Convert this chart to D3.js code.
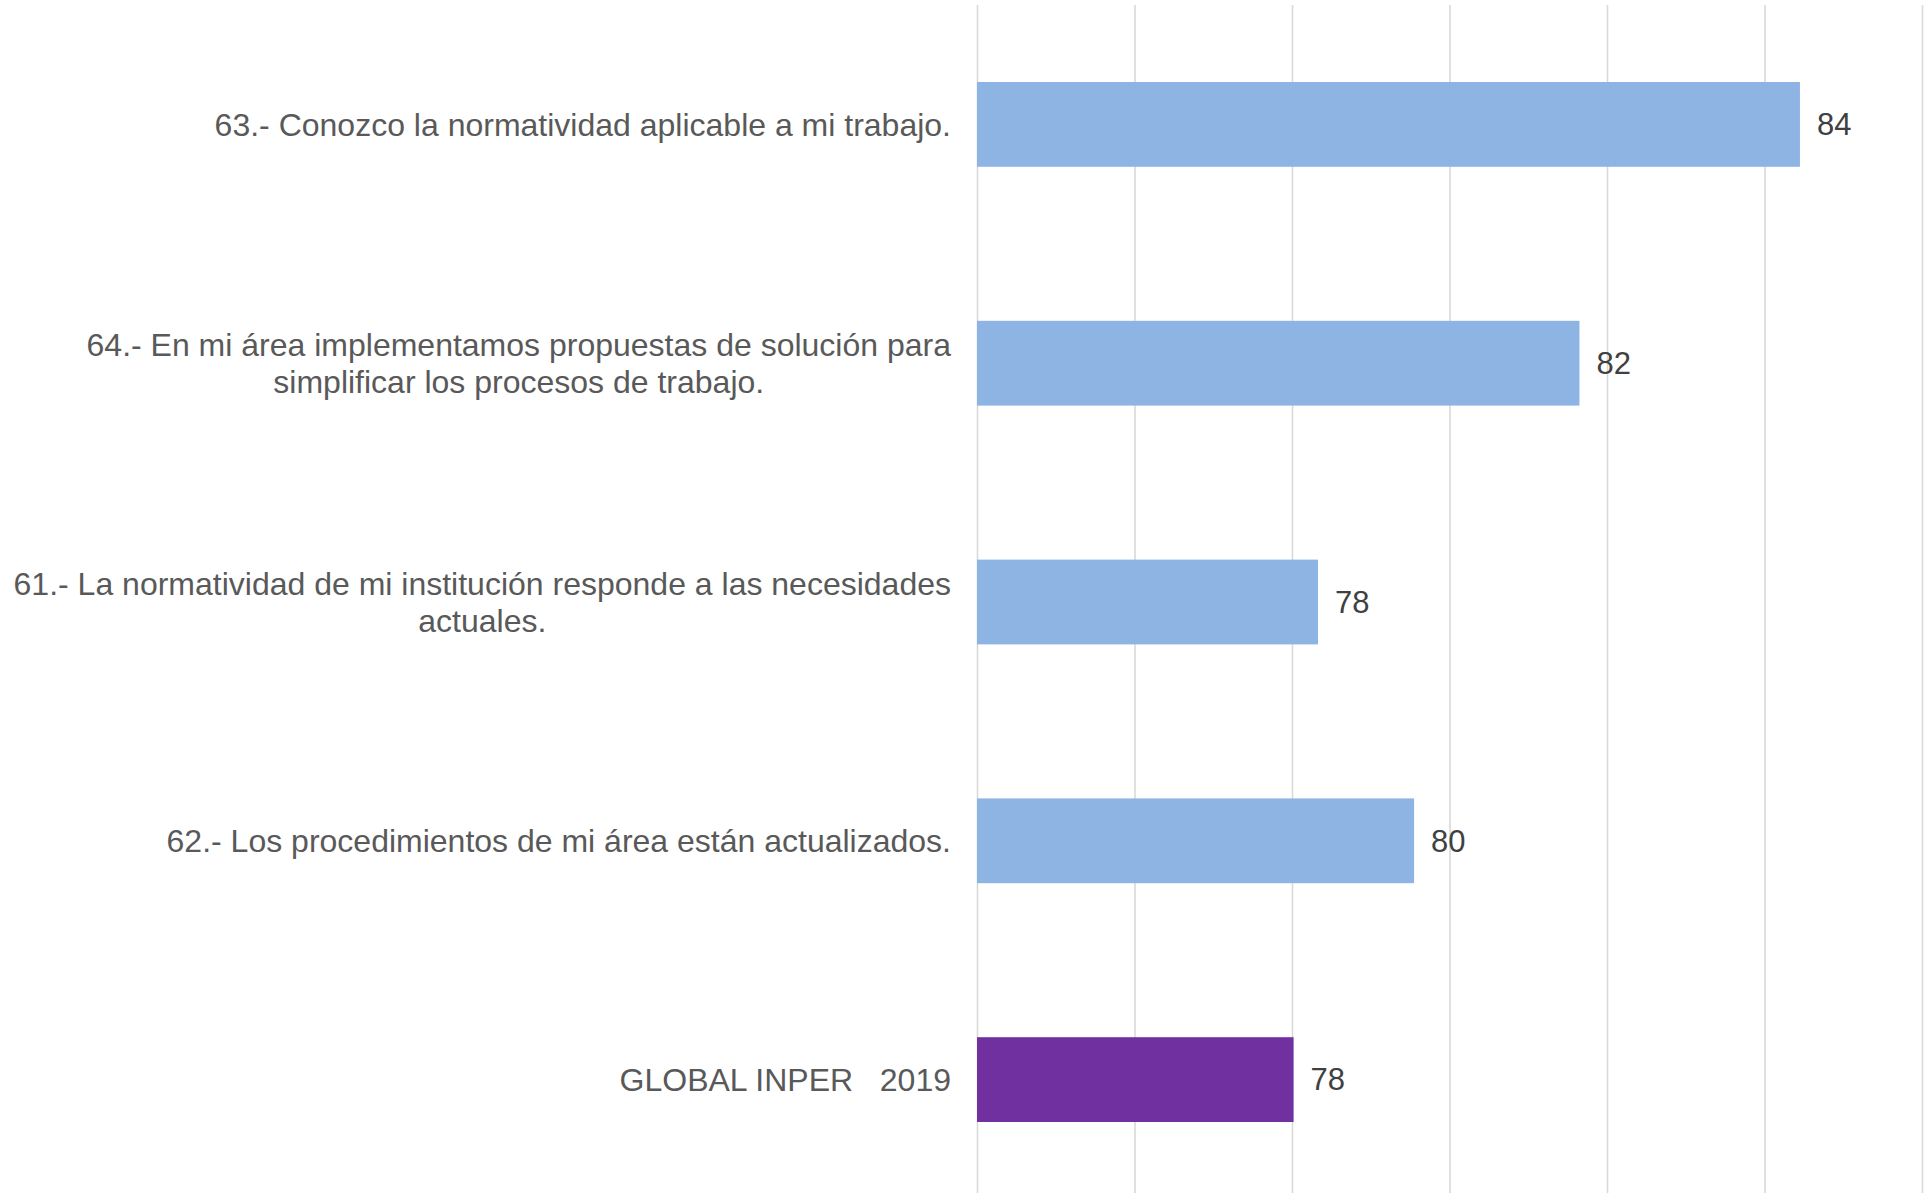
<!DOCTYPE html>
<html>
<head>
<meta charset="utf-8">
<script src="https://cdn.jsdelivr.net/npm/d3@7"></script>
<style>
  body { margin: 0; background: #fff; }
  svg { display: block; font-family: "Liberation Sans", Arial, sans-serif; }
</style>
</head>
<body>
<div id="chart"></div>
<script>
// categories (top to bottom), line breaks as in the original
var categories = [
  "63.- Conozco la normatividad aplicable a mi trabajo.",
  "64.- En mi área implementamos propuestas de solución para\nsimplificar los procesos de trabajo.",
  "61.- La normatividad de mi institución responde a las necesidades\nactuales.",
  "62.- Los procedimientos de mi área están actualizados.",
  "GLOBAL INPER   2019"
];
var values = [84.45, 81.65, 78.33, 79.55, 78.02];
var highlight = [false, false, false, false, true];
var xTicks = [74, 76, 78, 80, 82, 84, 86];

function main() {
  var w = 1929, h = 1193;
  var left = 977, right = 1922, top = 5, bottom = 1199;

  var data = categories.map(function (c, i) {
    return { cat: c, value: values[i], hl: highlight[i] };
  });

  var svg = d3.select("#chart").append("svg")
    .attr("width", w)
    .attr("height", h);

  var x = d3.scaleLinear().domain([74, 86]).range([left, right]);
  var y = d3.scaleBand()
    .domain(categories)
    .range([top, bottom])
    .paddingInner(0.645)
    .paddingOuter(0.3225);

  // vertical gridlines
  var grid = svg.append("g")
    .attr("transform", "translate(0," + h + ")")
    .call(d3.axisBottom(x).tickValues(xTicks).tickSize(-(h - top)).tickFormat(""));
  grid.select(".domain").remove();
  grid.selectAll(".tick line")
    .attr("stroke", "#d9d9d9")
    .attr("stroke-width", 1.6);

  // bars
  svg.append("g")
    .selectAll("rect")
    .data(data)
    .enter()
    .append("rect")
    .attr("x", x(74))
    .attr("y", function (d) { return y(d.cat); })
    .attr("width", function (d) { return x(d.value) - x(74); })
    .attr("height", y.bandwidth())
    .style("fill", function (d) { return d.hl ? "#7030a0" : "#8eb4e3"; });

  // value labels
  var fmt = d3.format(".0f");
  svg.append("g")
    .selectAll("text")
    .data(data)
    .enter()
    .append("text")
    .attr("x", function (d) { return x(d.value) + 17; })
    .attr("y", function (d) { return y(d.cat) + y.bandwidth() / 2; })
    .attr("dy", "0.35em")
    .style("font-size", "31px")
    .style("fill", "#404040")
    .text(function (d) { return fmt(d.value); });

  // category labels: block right-aligned, lines centred inside it
  var lineH = 37;
  var labels = svg.append("g")
    .selectAll("g")
    .data(data)
    .enter()
    .append("g");

  labels.each(function (d) {
    var g = d3.select(this);
    var lines = d.cat.split("\n");
    var cy = y(d.cat) + y.bandwidth() / 2;
    var t = g.selectAll("text")
      .data(lines)
      .enter()
      .append("text")
      .attr("xml:space", "preserve")
      .style("white-space", "pre")
      .style("font-size", "32px")
      .style("fill", "#595959")
      .attr("text-anchor", "middle")
      .attr("y", function (l, i) { return cy + (i - (lines.length - 1) / 2) * lineH; })
      .attr("dy", "0.35em")
      .text(function (l) { return l; });
    var maxW = 0;
    t.each(function () { maxW = Math.max(maxW, this.getComputedTextLength()); });
    t.attr("x", 951 - maxW / 2);
  });
}
main();
</script>
</body>
</html>
